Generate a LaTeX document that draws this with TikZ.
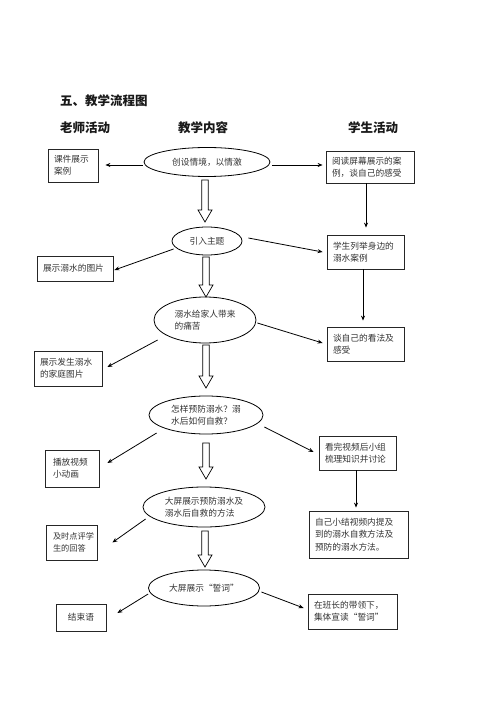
\documentclass[tikz,border=0pt]{standalone}
\usepackage{fontspec}
\setmainfont{Noto Sans CJK SC}
\usetikzlibrary{calc,arrows.meta,shapes.geometric}
\tikzset{
  box/.style={draw=black!85, line width=0.8pt, rectangle, align=left, inner xsep=6pt, inner ysep=0pt,
    font=\fontsize{8.7}{12}\selectfont, text=black!80},
  oval/.style={draw=black, line width=0.8pt, ellipse, inner sep=0pt, align=left,
    font=\fontsize{8.7}{12}\selectfont, text=black!80},
  arr/.style={draw=black, line width=0.8pt, -{Stealth[length=5pt,width=4pt]}},
  hollow/.style={draw=black, line width=0.7pt, fill=white},
  head/.style={font=\fontsize{12.5}{14}\selectfont\bfseries, text=black!90, inner sep=0pt}
}
\newcommand{\hollowarrow}[2]{%
  \path let \p1=(#1), \p2=(#2) in
    [hollow] (\x1-3.3pt,\y1) -- (\x1-3.3pt,\y2+12pt) -- (\x1-7pt,\y2+12pt) -- (\x2,\y2)
    -- (\x1+7pt,\y2+12pt) -- (\x1+3.3pt,\y2+12pt) -- (\x1+3.3pt,\y1) -- cycle;}
\begin{document}
\begin{tikzpicture}[x=1pt,y=-1pt]
\useasboundingbox (0,0) rectangle (500,708);
\fill[white] (0,0) rectangle (500,708);

% headers
\node[head, anchor=west] (title) at (60,101) {五、教学流程图};
\node[head] (h1) at (85,128) {老师活动};
\node[head] (h2) at (203,128) {教学内容};
\node[head] (h3) at (373,128) {学生活动};

% ellipses (center column)
\node[oval, minimum width=126pt, minimum height=29pt] (E1) at (207,162) {创设情境，以情激};
\node[oval, minimum width=70pt, minimum height=28pt] (E2) at (207,241) {引入主题};
\node[oval, minimum width=102pt, minimum height=46pt] (E3) at (205,320) {溺水给家人带来\\的痛苦};
\node[oval, minimum width=114pt, minimum height=38pt] (E4) at (206,415) {怎样预防溺水？溺\\水后如何自救？};
\node[oval, minimum width=122pt, minimum height=40pt] (E5) at (204,507) {大屏展示预防溺水及\\溺水后自救的方法};
\node[oval, minimum width=111pt, minimum height=36pt] (E6) at (204,588) {大屏展示“誓词”};

% left boxes
\node[box, minimum width=50pt, minimum height=33pt, text width=38pt, inner xsep=6pt] (L1) at (73,165.5) {课件展示\\案例};
\node[box, minimum width=76pt, minimum height=25pt, text width=64pt] (L2) at (75,268.5) {展示溺水的图片};
\node[box, minimum width=68pt, minimum height=35pt, text width=56pt] (L3) at (68,368.5) {展示发生溺水\\的家庭图片};
\node[box, minimum width=54pt, minimum height=37pt, text width=38pt, inner xsep=8pt] (L4) at (72,468.5) {播放视频\\小动画};
\node[box, minimum width=51pt, minimum height=35pt, text width=37pt, inner xsep=7pt, font=\fontsize{8.2}{12}\selectfont] (L5) at (71.5,542.5) {及时点评学\\生的回答};
\node[box, minimum width=50pt, minimum height=27pt, text width=38pt, align=center] (L6) at (81,617.5) {结束语};

% right boxes
\node[box, minimum width=88pt, minimum height=32pt, text width=76pt] (R1) at (370,167) {阅读屏幕展示的案\\例，谈自己的感受};
\node[box, minimum width=77pt, minimum height=34pt, text width=65pt] (R2) at (365.5,252) {学生列举身边的\\溺水案例};
\node[box, minimum width=77pt, minimum height=34pt, text width=65pt] (R3) at (365.5,344) {谈自己的看法及\\感受};
\node[box, minimum width=77pt, minimum height=34pt, text width=65pt] (R4) at (357.5,453) {看完视频后小组\\梳理知识并讨论};
\node[box, minimum width=99pt, minimum height=47pt, text width=87pt, font=\fontsize{8.7}{12.5}\selectfont] (R5) at (358.5,534.5) {自己小结视频内提及\\到的溺水自救方法及\\预防的溺水方法。};
\node[box, minimum width=89pt, minimum height=35pt, text width=77pt] (R6) at (352.5,611.5) {在班长的带领下，\\集体宣读“誓词”};

% hollow down arrows
\coordinate (a1) at (205,180); \coordinate (b1) at (205,222);
\coordinate (a2) at (206,257); \coordinate (b2) at (206,297);
\coordinate (a3) at (206,345); \coordinate (b3) at (206,388);
\coordinate (a4) at (206,443); \coordinate (b4) at (206,479);
\coordinate (a5) at (205,531); \coordinate (b5) at (205,567);
\hollowarrow{a1}{b1}
\hollowarrow{a2}{b2}
\hollowarrow{a3}{b3}
\hollowarrow{a4}{b4}
\hollowarrow{a5}{b5}

% connectors
\draw[arr] ($(E1.west)+(-1,3)$) -- ($(L1.east)+(7,-0.5)$);
\draw[arr] ($(E1.east)+(2,3)$) -- ($(R1.west)+(-3,-2)$);
\draw[arr] ($(E2.west)+(2,8)$) -- ($(L2.east)+(1,1.5)$);
\draw[arr] ($(E2.east)+(6,-3)$) -- ($(R2.west)+(-4,0)$);
\draw[arr] ($(E3.west)+(4,20)$) -- ($(L3.east)+(5,-1.5)$);
\draw[arr] ($(E3.east)+(1,3)$) -- ($(R3.west)+(-4,-1)$);
\draw[arr] ($(E4.west)+(8,18)$) -- ($(L4.east)+(8,-5.5)$);
\draw[arr] ($(E4.east)+(1,12)$) -- ($(R4.west)+(-5,-1)$);
\draw[arr] ($(E5.west)+(3,12)$) -- ($(L5.east)+(15,0)$);
\draw[arr] ($(E6.west)+(0,6)$) -- ($(L6.east)+(11,-4.5)$);
\draw[arr] ($(E6.east)+(1.5,4)$) -- ($(R6.west)+(-4,-3.5)$);

\draw[arr] ($(R1.south)+(-4,0)$) -- ($(R2.north)+(0.5,-7)$);
\draw[arr] ($(R2.south)+(-2.5,0)$) -- ($(R3.north)+(-2.5,-6)$);
\draw[arr] ($(R4.south)+(-1.5,0)$) -- ($(R5.north)+(-2.5,-3)$);
\end{tikzpicture}
\end{document}
